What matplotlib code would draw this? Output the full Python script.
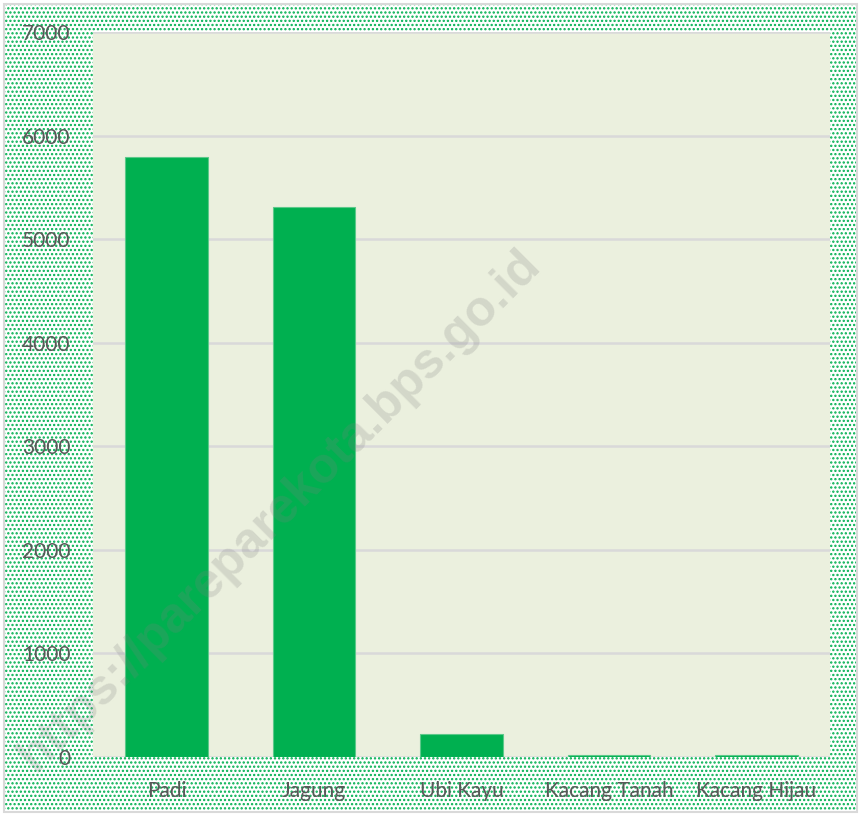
import matplotlib
matplotlib.use('Agg')
import matplotlib.pyplot as plt
from matplotlib.patches import Rectangle

categories = ['Padi', 'Jagung', 'Ubi Kayu', 'Kacang Tanah', 'Kacang Hijau']
values = [5790, 5310, 220, 15, 15]
yticks = [0, 1000, 2000, 3000, 4000, 5000, 6000, 7000]

plt.rcParams['font.family'] = ['Lato', 'DejaVu Sans']
plt.rcParams['hatch.linewidth'] = 1.1

fig = plt.figure(figsize=(8.61, 8.16), dpi=100)

# dotted green background and thin border
bg = Rectangle((0.005, 0.005), 0.99, 0.99, transform=fig.transFigure,
               facecolor='white', edgecolor='#00B050', hatch='....', lw=0, zorder=-2)
fig.patches.append(bg)
border = Rectangle((0.005, 0.005), 0.99, 0.99, transform=fig.transFigure,
                   facecolor='none', edgecolor='#D9D9D9', lw=1.5, zorder=-1)
fig.patches.append(border)

ax = fig.add_axes([93/861, 1 - 757/816, (830-93)/861, (757-32)/816])
ax.set_facecolor('#EBF0DE')

x = range(len(categories))
ax.bar(x, values, width=0.56, color='#00B050', edgecolor='#5CC98A', linewidth=0.8, zorder=3)

ax.set_xlim(-0.5, len(categories) - 0.5)
ax.set_ylim(0, 7000)
ax.set_yticks(yticks)
ax.set_yticklabels([str(v) for v in yticks])
ax.set_xticks(list(x))
ax.set_xticklabels(categories)
ax.grid(axis='y', color='#D9D9D9', linewidth=1.8, zorder=1)
ax.set_axisbelow(True)
for s in ax.spines.values():
    s.set_visible(False)
ax.tick_params(axis='both', length=0, colors='#595959')
ax.tick_params(axis='y', pad=16, labelsize=15)
ax.tick_params(axis='x', pad=17, labelsize=15)

fig.text(0.325, 0.375, 'https://pareparekota.bps.go.id', rotation=45,
         fontsize=36, fontweight='bold', color='#808080', alpha=0.22,
         ha='center', va='center', family=['Liberation Sans', 'DejaVu Sans'], zorder=10)

fig.savefig('out.png', dpi=100)
